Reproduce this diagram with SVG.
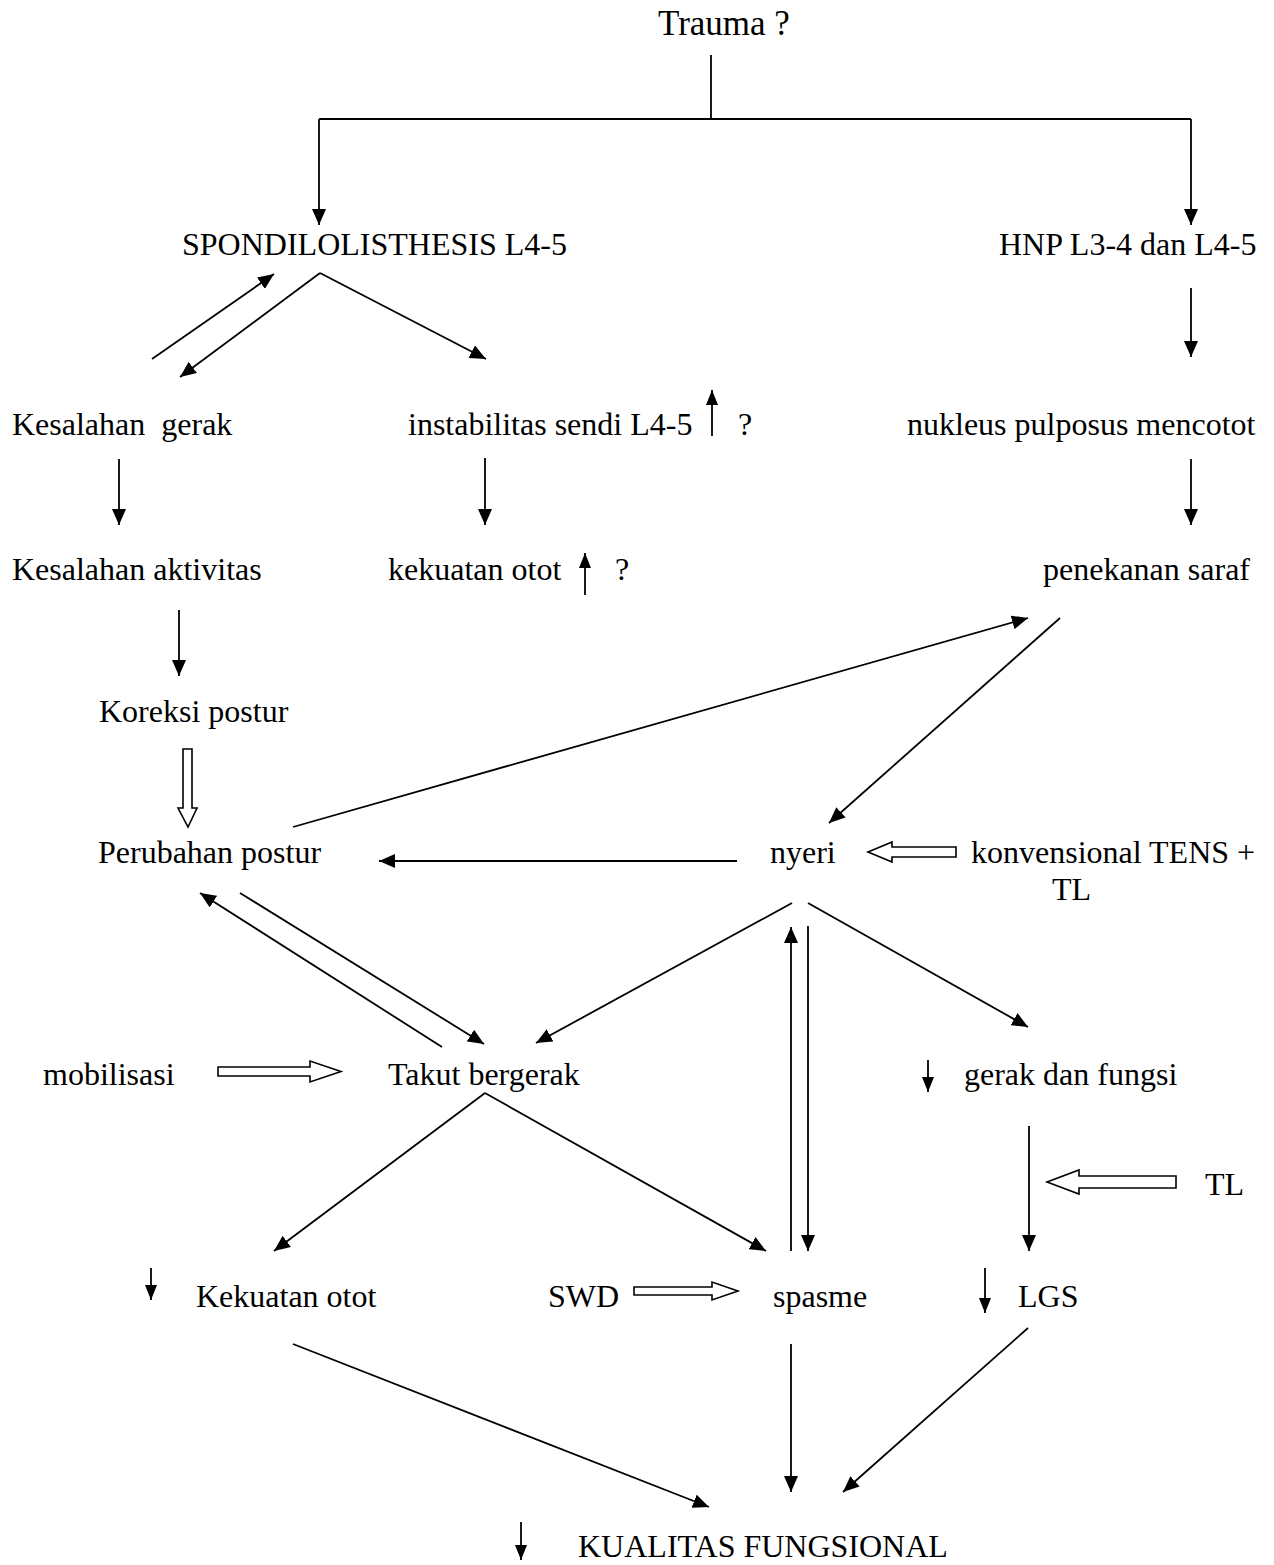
<svg xmlns="http://www.w3.org/2000/svg" width="1274" height="1565" viewBox="0 0 1274 1565">
<style>
text{font-family:"Liberation Serif","Times New Roman",serif;font-size:32px;fill:#000;white-space:pre}
.c line{stroke:#000;stroke-width:1.8;fill:none}
.a{marker-end:url(#ah)}
.s{marker-end:url(#ahs)}
.h{fill:#fff;stroke:#000;stroke-width:1.6}
</style>
<defs>
<marker id="ah" viewBox="0 0 16 14" refX="16" refY="7" markerWidth="16" markerHeight="14" orient="auto" markerUnits="userSpaceOnUse"><path d="M0,0 L16,7 L0,14 z" fill="#000"/></marker>
<marker id="ahs" viewBox="0 0 15 12" refX="15" refY="6" markerWidth="15" markerHeight="12" orient="auto" markerUnits="userSpaceOnUse"><path d="M0,0 L15,6 L0,12 z" fill="#000"/></marker>
</defs>
<rect width="1274" height="1565" fill="#fff"/>
<g id="n-trauma"><text x="658" y="35" style="font-size:35px">Trauma ?</text></g>
<g id="n-spondi"><text x="182" y="255">SPONDILOLISTHESIS L4-5</text></g>
<g id="n-hnp"><text x="999" y="255">HNP L3-4 dan L4-5</text></g>
<g id="n-kesgerak"><text x="12" y="435">Kesalahan  gerak</text></g>
<g id="n-instab"><text x="408" y="435">instabilitas sendi L4-5</text><text x="738" y="435">?</text></g>
<g id="n-nukleus"><text x="907" y="435">nukleus pulposus mencotot</text></g>
<g id="n-kesakt"><text x="12" y="580">Kesalahan aktivitas</text></g>
<g id="n-kekuatan1"><text x="388" y="580">kekuatan otot</text><text x="615" y="580">?</text></g>
<g id="n-penekanan"><text x="1043" y="580">penekanan saraf</text></g>
<g id="n-koreksi"><text x="99" y="722">Koreksi postur</text></g>
<g id="n-perubahan"><text x="98" y="863">Perubahan postur</text></g>
<g id="n-nyeri"><text x="770" y="863">nyeri</text></g>
<g id="n-tens"><text x="971" y="863">konvensional TENS +</text><text x="1052" y="900">TL</text></g>
<g id="n-mobilisasi"><text x="43" y="1085">mobilisasi</text></g>
<g id="n-takut"><text x="388" y="1085">Takut bergerak</text></g>
<g id="n-gerakfungsi"><text x="964" y="1085">gerak dan fungsi</text></g>
<g id="n-tl"><text x="1205" y="1195">TL</text></g>
<g id="n-kekuatan2"><text x="196" y="1307">Kekuatan otot</text></g>
<g id="n-swd"><text x="548" y="1307">SWD</text></g>
<g id="n-spasme"><text x="773" y="1307">spasme</text></g>
<g id="n-lgs"><text x="1018" y="1307">LGS</text></g>
<g id="n-kualitas"><text x="578" y="1557">KUALITAS FUNGSIONAL</text></g>
<g id="connectors" class="c">
<line x1="711" y1="55" x2="711" y2="119"/>
<line x1="319" y1="119" x2="1191" y2="119"/>
<line class="a" x1="319" y1="119" x2="319" y2="225"/>
<line class="a" x1="1191" y1="119" x2="1191" y2="225"/>
<line class="a" x1="152" y1="359" x2="274" y2="274"/>
<line class="a" x1="320" y1="273" x2="180" y2="377"/>
<line class="a" x1="320" y1="273" x2="486" y2="359"/>
<line class="a" x1="119" y1="459" x2="119" y2="525"/>
<line class="a" x1="485" y1="458" x2="485" y2="525"/>
<line class="a" x1="1191" y1="288" x2="1191" y2="357"/>
<line class="a" x1="1191" y1="459" x2="1191" y2="525"/>
<line class="a" x1="179" y1="610" x2="179" y2="676"/>
<line class="s" x1="712" y1="436" x2="712" y2="390"/>
<line class="s" x1="585" y1="595" x2="585" y2="553"/>
<line class="a" x1="293" y1="827" x2="1028" y2="618"/>
<line class="a" x1="1060" y1="618" x2="829" y2="823"/>
<line class="a" x1="737" y1="861" x2="379" y2="861"/>
<line class="a" x1="442" y1="1047" x2="200" y2="893"/>
<line class="a" x1="240" y1="893" x2="484" y2="1044"/>
<line class="a" x1="792" y1="903" x2="536" y2="1043"/>
<line class="a" x1="808" y1="903" x2="1028" y2="1027"/>
<line class="a" x1="791" y1="1251" x2="791" y2="927"/>
<line class="a" x1="808" y1="926" x2="808" y2="1251"/>
<line class="a" x1="485" y1="1093" x2="274" y2="1251"/>
<line class="a" x1="485" y1="1093" x2="766" y2="1251"/>
<line class="s" x1="928" y1="1060" x2="928" y2="1092"/>
<line class="a" x1="1029" y1="1126" x2="1029" y2="1251"/>
<line class="s" x1="151" y1="1268" x2="151" y2="1300"/>
<line class="s" x1="985" y1="1268" x2="985" y2="1313"/>
<line class="a" x1="293" y1="1344" x2="709" y2="1507"/>
<line class="a" x1="791" y1="1344" x2="791" y2="1492"/>
<line class="a" x1="1028" y1="1328" x2="843" y2="1492"/>
<line class="s" x1="521" y1="1522" x2="521" y2="1560"/>
<polygon class="h" points="183,749 192,749 192,808 197,808 188,827 178,808 183,808"/>
<polygon class="h" points="218,1067 310,1067 310,1061 341,1071.5 310,1082 310,1076 218,1076"/>
<polygon class="h" points="956,847 892,847 892,842 868,852 892,862 892,857 956,857"/>
<polygon class="h" points="1176,1176 1079,1176 1079,1170 1047,1182 1079,1194 1079,1188 1176,1188"/>
<polygon class="h" points="634,1287 712,1287 712,1282 738,1291 712,1300 712,1295 634,1295"/>
</g>
</svg>
